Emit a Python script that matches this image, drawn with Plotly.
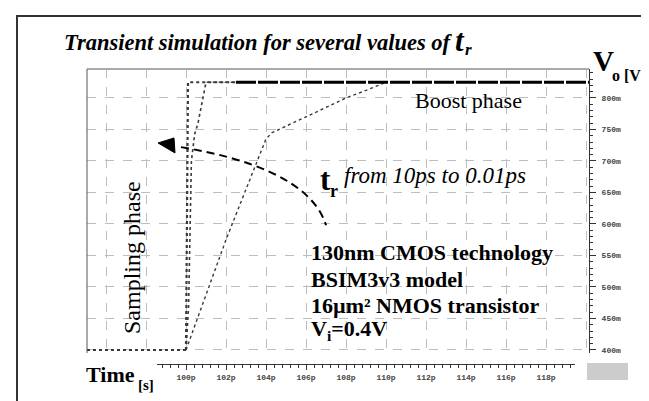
import plotly.graph_objects as go

# ---------------- data ----------------
t_base = [95.05, 100.0]
v_base = [0.400, 0.400]

t_fast = [100.0, 100.1, 102.5]
v_fast = [0.400, 0.825, 0.825]

t_mid = [100.0, 100.13, 100.27, 100.43, 100.6, 100.8, 101.0, 102.5]
v_mid = [0.400, 0.470, 0.700, 0.742, 0.760, 0.790, 0.825, 0.825]

t_slow = [100.0, 101.0, 102.0, 103.0, 103.7, 104.0, 104.3, 105.0, 106.0, 107.0, 108.0, 109.0, 110.0]
v_slow = [0.400, 0.488, 0.575, 0.655, 0.710, 0.735, 0.745, 0.755, 0.770, 0.785, 0.800, 0.812, 0.825]

t_boost = [102.5, 120.15]
v_boost = [0.825, 0.825]

y_ticks = [0.40, 0.45, 0.50, 0.55, 0.60, 0.65, 0.70, 0.75, 0.80]
y_labels = ["400m", "450m", "500m", "550m", "600m", "650m", "700m", "750m", "800m"]
x_ticks = [100, 102, 104, 106, 108, 110, 112, 114, 116, 118]
x_labels = ["100p", "102p", "104p", "106p", "108p", "110p", "112p", "114p", "116p", "118p"]
x_grid = [96, 98, 100, 102, 104, 106, 108, 110, 112, 114, 116, 118, 120]

# ---------------- geometry helpers (pixels -> paper) ----------------
W, H = 649, 401
ML, MR, MT, MB = 79, 68, 61, 45
PW = W - ML - MR
PH = H - MT - MB
def xp(px):
    return (px - ML) / PW
def yp(py):
    return (H - MB - py) / PH

SERIF = "Liberation Serif"
MONO = "Liberation Mono"
curve_col = "#3a3a3a"

fig = go.Figure()
fig.add_trace(go.Scatter(x=t_base, y=v_base, mode="lines",
                         line=dict(color=curve_col, width=2.2, dash="dot"), hoverinfo="skip"))
fig.add_trace(go.Scatter(x=t_fast, y=v_fast, mode="lines",
                         line=dict(color=curve_col, width=2.2, dash="dot"), hoverinfo="skip"))
fig.add_trace(go.Scatter(x=t_mid, y=v_mid, mode="lines",
                         line=dict(color=curve_col, width=1.6, dash="dot"), hoverinfo="skip"))
fig.add_trace(go.Scatter(x=t_slow, y=v_slow, mode="lines",
                         line=dict(color=curve_col, width=1.4, dash="dot"), hoverinfo="skip"))
fig.add_trace(go.Scatter(x=t_boost, y=v_boost, mode="lines",
                         line=dict(color="#000000", width=3, dash="20px,2px"), hoverinfo="skip"))
# dummy trace to create the separate time-axis strip
fig.add_trace(go.Scatter(x=[110], y=[0], xaxis="x2", yaxis="y2", mode="markers",
                         marker=dict(opacity=0), hoverinfo="skip"))

ydom0 = (H - MB - 345) / PH
tickfont = dict(family=MONO, size=8, color="#444", weight="bold")

fig.update_layout(
    width=W, height=H,
    margin=dict(l=ML, r=MR, t=MT, b=MB, pad=0),
    paper_bgcolor="white", plot_bgcolor="white",
    showlegend=False,
    xaxis=dict(range=[95.05, 120.15], domain=[0, 1], tickvals=x_grid, showticklabels=False,
               ticks="", showgrid=True, gridcolor="#bdbdbd", griddash="dash", gridwidth=1,
               zeroline=False, showline=False, anchor="y"),
    yaxis=dict(range=[0.3952, 0.846], domain=[ydom0, 1], side="right", anchor="x",
               tickvals=y_ticks, ticktext=y_labels, ticks="outside", ticklen=6, tickwidth=1,
               tickcolor="#333", showline=True, linecolor="#333", linewidth=1,
               showgrid=True, gridcolor="#bdbdbd", griddash="dash", gridwidth=1, zeroline=False,
               tickfont=tickfont, ticklabelstandoff=4,
               minor=dict(dtick=0.01, tick0=0.4, ticks="outside", ticklen=3, tickcolor="#333", showgrid=False)),
    xaxis2=dict(range=[98.55, 119.45], domain=[xp(149), xp(567)], anchor="y2",
                tickvals=x_ticks, ticktext=x_labels, ticks="outside", ticklen=5, tickcolor="#333",
                showline=True, linecolor="#333", linewidth=1, showgrid=False, zeroline=False,
                tickfont=tickfont,
                minor=dict(dtick=0.4, tick0=100, ticks="outside", ticklen=3, tickcolor="#333", showgrid=False)),
    yaxis2=dict(domain=[0, 0.001], visible=False, range=[-1, 1], anchor="x2"),
)

shapes = [
    # outer frame
    dict(type="rect", xref="paper", yref="paper", x0=xp(9), x1=xp(641), y0=yp(396), y1=yp(8),
         line=dict(color="#333", width=2), fillcolor="rgba(0,0,0,0)", layer="below"),
    # plot frame: top and left
    dict(type="line", xref="paper", yref="paper", x0=0, x1=1, y0=1, y1=1,
         line=dict(color="#aaaaaa", width=2)),
    dict(type="line", xref="paper", yref="paper", x0=0, x1=0, y0=ydom0, y1=1,
         line=dict(color="#555555", width=1)),
    # gray box bottom right
    dict(type="rect", xref="paper", yref="paper", x0=xp(579), x1=xp(620), y0=yp(372), y1=yp(355),
         line=dict(width=0), fillcolor="#cccccc"),
    # dashed arrow curve
    dict(type="path", xref="x", yref="y",
         path="M 99.75,0.722 C 103,0.705 106.3,0.67 107.0,0.598",
         line=dict(color="black", width=2, dash="8px,5px")),
    # arrow head
    dict(type="path", xref="x", yref="y",
         path="M 98.6,0.7286 L 99.4,0.7365 L 99.45,0.7127 Z",
         line=dict(color="black", width=1), fillcolor="black"),
]
fig.update_layout(shapes=shapes)

ann = []
def A(text, x, y, size, xanchor="left", yanchor="middle", angle=0, color="black"):
    ann.append(dict(text=text, xref="paper", yref="paper", x=xp(x), y=yp(y), showarrow=False,
                    xanchor=xanchor, yanchor=yanchor, textangle=angle,
                    font=dict(family=SERIF, size=size, color=color)))

A("<b><i>Transient simulation for several values of </i></b>", 54, 34, 22.5)
A("<b><i>t</i></b>", 445, 32, 31)
A("<b><i>r</i></b>", 455, 42, 17)
A("<b>V</b>", 583, 53, 29)
A("<b>o [V]</b>", 602, 67, 16)
A("<b>Time</b>", 76, 366, 22)
A("<b>[s]</b>", 128, 377, 15)
A("Boost phase", 405, 93, 22)
A("Sampling phase", 124, 250, 24, xanchor="center", angle=-90)
A("<b>t</b>", 310, 171, 31)
A("<b>r</b>", 320, 183, 18)
A("<i>from 10ps to 0.01ps</i>", 334, 167, 23)
A("<b>130nm CMOS technology</b>", 301, 244, 22)
A("<b>BSIM3v3 model</b>", 301, 271, 22)
A("<b>16µm² NMOS transistor</b>", 301, 297, 22)
A("<b>V<sub>i</sub>=0.4V</b>", 301, 322, 22)
fig.update_layout(annotations=ann)

fig.write_html("out.html")
